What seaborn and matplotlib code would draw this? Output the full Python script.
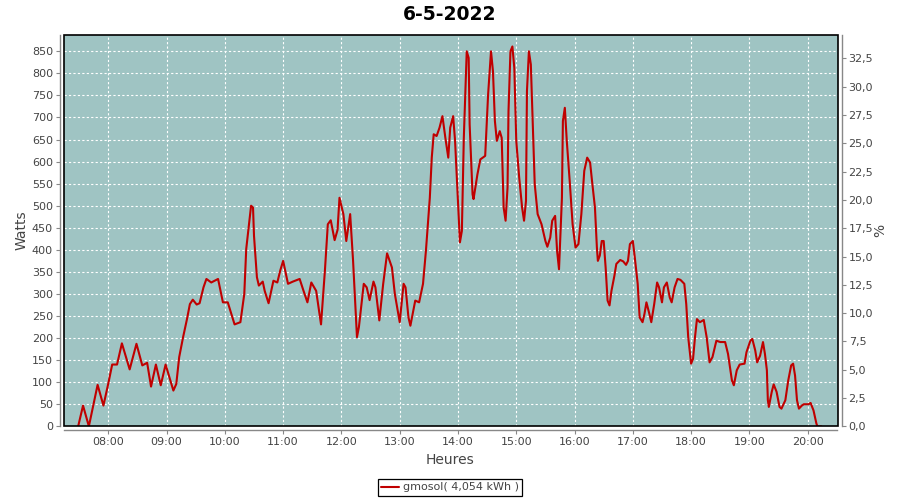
import matplotlib
matplotlib.use("Agg")
import matplotlib.pyplot as plt
import matplotlib.dates as mdates
from matplotlib.ticker import MultipleLocator, FuncFormatter
from matplotlib.patches import Rectangle
import pandas as pd
import seaborn as sns

title = "6-5-2022"
series_name = "gmosol( 4,054 kWh )"
x_label = "Heures"
y_label = "Watts"
y2_label = "%"
day = "2022-05-06"

times = [
    "07:29", "07:34", "07:40", "07:45", "07:49", "07:55", "08:00", "08:04", "08:09", "08:14",
    "08:22", "08:29", "08:35", "08:40", "08:44", "08:49", "08:54", "08:59", "09:07", "09:10",
    "09:13", "09:17", "09:21", "09:24", "09:27", "09:31", "09:34", "09:38", "09:41", "09:46",
    "09:53", "09:58", "10:03", "10:10", "10:16", "10:20", "10:22", "10:27", "10:29", "10:30",
    "10:33", "10:35", "10:39", "10:41", "10:45", "10:50", "10:54", "10:57", "11:00", "11:05",
    "11:10", "11:17", "11:21", "11:25", "11:29", "11:34", "11:39", "11:43", "11:46", "11:49",
    "11:53", "11:56", "11:58", "12:02", "12:05", "12:09", "12:12", "12:16", "12:18", "12:23",
    "12:26", "12:29", "12:33", "12:35", "12:39", "12:43", "12:47", "12:52", "12:55", "13:00",
    "13:04", "13:06", "13:09", "13:11", "13:16", "13:20", "13:24", "13:27", "13:31", "13:33",
    "13:35", "13:38", "13:41", "13:44", "13:47", "13:50", "13:52", "13:55", "13:57", "13:59",
    "14:02", "14:04", "14:06", "14:09", "14:11", "14:12", "14:15", "14:16", "14:20", "14:23",
    "14:28", "14:31", "14:34", "14:36", "14:38", "14:40", "14:43", "14:45", "14:47", "14:49",
    "14:51", "14:52", "14:54", "14:56", "14:58", "15:00", "15:03", "15:06", "15:08", "15:10",
    "15:11", "15:13", "15:15", "15:17", "15:19", "15:22", "15:26", "15:30", "15:32", "15:35",
    "15:37", "15:40", "15:42", "15:44", "15:47", "15:48", "15:50", "15:52", "15:55", "15:58",
    "16:01", "16:04", "16:07", "16:10", "16:13", "16:16", "16:18", "16:21", "16:23", "16:24",
    "16:26", "16:28", "16:30", "16:32", "16:34", "16:36", "16:38", "16:41", "16:43", "16:47",
    "16:50", "16:53", "16:55", "16:57", "17:00", "17:02", "17:05", "17:07", "17:10", "17:12",
    "17:14", "17:17", "17:19", "17:22", "17:25", "17:27", "17:30", "17:32", "17:35", "17:38",
    "17:40", "17:43", "17:46", "17:49", "17:53", "17:55", "17:57", "18:00", "18:02", "18:04",
    "18:06", "18:09", "18:13", "18:16", "18:19", "18:22", "18:26", "18:30", "18:35", "18:38",
    "18:42", "18:44", "18:47", "18:50", "18:55", "18:57", "19:01", "19:03", "19:06", "19:08",
    "19:11", "19:14", "19:16", "19:18", "19:19", "19:20", "19:23", "19:25", "19:28", "19:31",
    "19:33", "19:37", "19:40", "19:43", "19:45", "19:47", "19:49", "19:51", "19:54", "19:56",
    "20:01", "20:03", "20:06", "20:09", "20:10", "20:14",
]

watts = [
    0, 47, 0, 52, 94, 47, 97, 140, 140, 188,
    129, 187, 138, 144, 90, 140, 93, 140, 81, 96,
    157, 202, 243, 277, 287, 276, 279, 315, 334, 326,
    334, 281, 281, 231, 236, 300, 402, 500, 496, 432,
    338, 319, 328, 307, 279, 330, 326, 353, 375, 323,
    328, 334, 307, 281, 326, 307, 231, 353, 458, 467,
    422, 445, 518, 481, 420, 481, 375, 202, 225, 323,
    315, 286, 328, 315, 240, 323, 392, 360, 300, 236,
    323, 315, 247, 228, 285, 281, 323, 398, 518, 609,
    662, 658, 677, 703, 654, 609, 677, 703, 647, 556,
    417, 443, 654, 850, 835, 684, 526, 515, 571, 605,
    613, 752, 850, 805, 692, 647, 669, 654, 496, 466,
    541, 714, 850, 861, 812, 647, 564, 496, 466, 511,
    760, 850, 820, 684, 549, 481, 458, 420, 407, 428,
    466, 477, 398, 356, 518, 692, 722, 647, 556, 458,
    405, 413, 481, 579, 609, 598, 556, 496, 405, 375,
    387, 420, 420, 360, 285, 274, 307, 341, 368, 377,
    374, 366, 375, 413, 420, 383, 323, 247, 236, 255,
    281, 255, 236, 277, 326, 315, 281, 315, 326, 292,
    281, 315, 334, 332, 323, 277, 202, 142, 153, 202,
    243, 236, 241, 202, 145, 157, 194, 191, 191, 164,
    104, 93, 127, 140, 142, 168, 194, 198, 172, 145,
    160, 191, 164, 127, 59, 44, 78, 95, 78, 44,
    40, 59, 104, 138, 142, 115, 59, 40, 47, 50,
    50, 53, 36, 6, 0, 0,
]

y_max = 887
y2_max = 34.57
x_start = "07:14:24"
x_end = "20:30:42"

sns.set_theme(style="white")
plt.rcParams['font.family'] = ['DejaVu Sans']

df = pd.DataFrame({
    "time": pd.to_datetime([f"{day} {t}" for t in times]),
    "watts": watts,
})

fig = plt.figure(figsize=(9, 5), dpi=100, facecolor="white")
W, H = 900, 500
left, right, top, bottom = 64, 837.5, 35, 426.3
ax = fig.add_axes([left / W, 1 - bottom / H, (right - left) / W, (bottom - top) / H])
ax.set_facecolor("#9FC4C3")

sns.lineplot(data=df, x="time", y="watts", ax=ax, color="#C00000",
             linewidth=1.5, label=series_name, legend=False, zorder=3)

ax.set_xlim(pd.Timestamp(f"{day} {x_start}"), pd.Timestamp(f"{day} {x_end}"))
ax.set_ylim(0, y_max)
ax.xaxis.set_major_locator(mdates.HourLocator())
ax.xaxis.set_major_formatter(mdates.DateFormatter("%H:%M"))
ax.yaxis.set_major_locator(MultipleLocator(50))
ax.set_axisbelow(True)
ax.grid(True, color="white", linestyle=(0, (2, 2)), linewidth=0.8)

ax2 = ax.twinx()
ax2.set_ylim(0, y2_max)
ax2.yaxis.set_major_locator(MultipleLocator(2.5))
ax2.yaxis.set_major_formatter(FuncFormatter(lambda v, p: f"{v:.1f}".replace(".", ",")))
ax2.grid(False)

axis_gray = "#888888"
text_gray = "#444444"
for a in (ax, ax2):
    for s in a.spines.values():
        s.set_visible(False)
ax.spines["left"].set_visible(True)
ax.spines["bottom"].set_visible(True)
ax2.spines["right"].set_visible(True)
for s in (ax.spines["left"], ax.spines["bottom"], ax2.spines["right"]):
    s.set_position(("outward", 3))
    s.set_color(axis_gray)
    s.set_linewidth(1.0)

ax.tick_params(axis="both", direction="out", length=3, width=0.8, color=axis_gray,
               labelsize=8, labelcolor=text_gray, pad=2, left=True, bottom=True)
ax2.tick_params(axis="y", direction="out", length=3, width=0.8, color=axis_gray,
                labelsize=8, labelcolor=text_gray, pad=2, right=True)

ax.add_patch(Rectangle((0, 0), 1, 1, transform=ax.transAxes, fill=False,
                       edgecolor="black", linewidth=1.2, clip_on=False, zorder=10))

ax.set_xlabel("")
ax.set_ylabel("")
ax.set_xlabel(x_label, fontsize=10, color=text_gray, va="center")
ax.xaxis.set_label_coords((450 - left) / (right - left), (bottom - 460) / (bottom - top))
ax.set_ylabel(y_label, fontsize=10, color=text_gray, va="center")
ax.yaxis.set_label_coords((22 - left) / (right - left), 0.5)
ax2.set_ylabel(y2_label, fontsize=10, color=text_gray, va="center", rotation=90)
ax2.yaxis.set_label_coords((880 - left) / (right - left), 0.5)

fig.suptitle(title, x=0.5, y=1 - 14 / H, va="center", fontsize=13.5, fontweight="bold", color="black")

handles, labels = ax.get_legend_handles_labels()
leg = fig.legend(handles, labels, loc="center", bbox_to_anchor=(0.5, 1 - 487.5 / H),
                 fontsize=8, frameon=True, fancybox=False, framealpha=1,
                 edgecolor="black", handlelength=1.6, handletextpad=0.3,
                 borderpad=0.35, borderaxespad=0)
leg.get_frame().set_linewidth(0.9)
for t in leg.get_texts():
    t.set_color(text_gray)

fig.savefig("out.png", dpi=100, facecolor="white")
